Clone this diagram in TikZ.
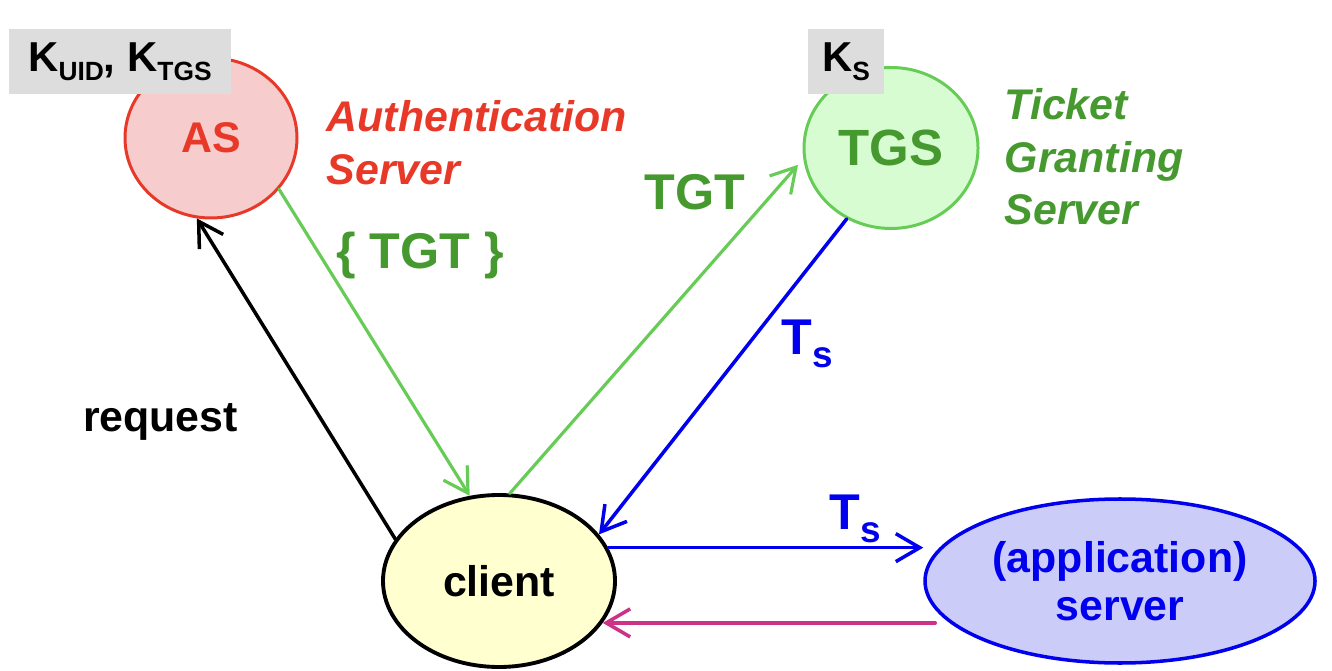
\documentclass[tikz,border=0pt]{standalone}
\usepackage{fontspec}
\setmainfont{Liberation Sans}
\usetikzlibrary{arrows.meta}
\usetikzlibrary{shapes,positioning}
\definecolor{asred}{RGB}{232,56,40}
\definecolor{asfill}{RGB}{246,204,204}
\definecolor{tgsgreen}{RGB}{102,204,85}
\definecolor{tgsfill}{RGB}{216,252,210}
\definecolor{txtgreen}{RGB}{69,153,46}
\definecolor{ablue}{RGB}{0,0,238}
\definecolor{appfill}{RGB}{204,204,248}
\definecolor{clfill}{RGB}{255,255,208}
\definecolor{replypink}{RGB}{204,51,136}
\definecolor{keygray}{RGB}{221,221,221}
\newcommand{\keysub}[1]{\raisebox{-0.9mm}{\fontsize{7.5}{8}\selectfont #1}}
\newcommand{\tsub}[1]{\raisebox{-1.3mm}{\fontsize{10.5}{11}\selectfont #1}}
\tikzset{>={Straight Barb[length=2.4mm,width=2.8mm]},
  server/.style={ellipse,draw,line width=0.85pt,inner sep=0pt,
    font=\fontsize{12.2}{13.7}\selectfont\bfseries},
  keybox/.style={fill=keygray,inner sep=0pt,minimum height=0.65cm,
    font=\fontsize{11.9}{13}\selectfont\bfseries},
  lbl/.style={inner sep=0pt,font=\fontsize{14.3}{16}\selectfont\bfseries},
  role/.style={inner sep=0pt,anchor=north west,align=left,
    font=\fontsize{12.2}{14.9}\selectfont\bfseries\itshape}}

\begin{document}
\begin{tikzpicture}[line cap=round]
  \useasboundingbox (0,0) rectangle (13.32,6.70);

  \node [server,draw=asred,fill=asfill,text=asred,
    minimum width=1.72cm,minimum height=1.60cm] (as) at (2.11,5.32) {AS};
  \node [server,draw=tgsgreen,fill=tgsfill,text=txtgreen,
    font=\fontsize{14.5}{16}\selectfont\bfseries,
    minimum width=1.74cm,minimum height=1.61cm] (tgs) at (8.91,5.22) {TGS};
  \node [server,line width=1.1pt,fill=clfill,
    minimum width=2.32cm,minimum height=1.72cm] (client) at (4.99,0.89) {client};
  \node [server,line width=1pt,draw=ablue,fill=appfill,text=ablue,align=center,
    minimum width=3.90cm,minimum height=1.64cm] (app) at (11.20,0.89)
    {(application)\\server};

  \node [keybox,minimum width=2.22cm] (askeys) at (1.20,6.085)
    {K\keysub{UID}, K\keysub{TGS}};
  \node [keybox,minimum width=0.76cm] (tgskey) at (8.46,6.08) {K\keysub{S}};

  \node [role,text=asred] (asname) at (3.26,5.70) {Authentication\\Server};
  \node [role,text=txtgreen] (tgsname) at (10.04,5.82) {Ticket\\Granting\\Server};

  \draw [->,line width=1pt] (client.158) -- (as.-100);
  \draw [->,tgsgreen,line width=0.9pt] (as.-37) -- (client.109);
  \draw [->,tgsgreen,line width=0.9pt,shorten >=0.8mm] (client.83) -- (tgs.187);
  \draw [->,ablue,line width=1pt] (tgs.238) -- (client.25);
  \draw [->,ablue,line width=1pt] (client.17) -- (client.17 -| app.west);
  \draw [->,replypink,line width=1pt]
    ([xshift=1.2mm]app.west |- client.-22) -- (client.-22);

  \node [lbl,anchor=base,font=\fontsize{12.2}{14}\selectfont\bfseries]
    (req) at (1.605,2.38) {request};
  \node [lbl,anchor=base,text=txtgreen] (enctgt) at (4.20,4.01) {\{ TGT \}};
  \node [lbl,anchor=base,text=txtgreen] (tgt) at (6.95,4.60) {TGT};
  \node [lbl,anchor=base west,text=ablue] (ts) at (7.81,3.15) {T\tsub{s}};
  \node [lbl,anchor=base west,text=ablue] (tsapp) at (8.29,1.41) {T\tsub{s}};

\end{tikzpicture}
\end{document}
